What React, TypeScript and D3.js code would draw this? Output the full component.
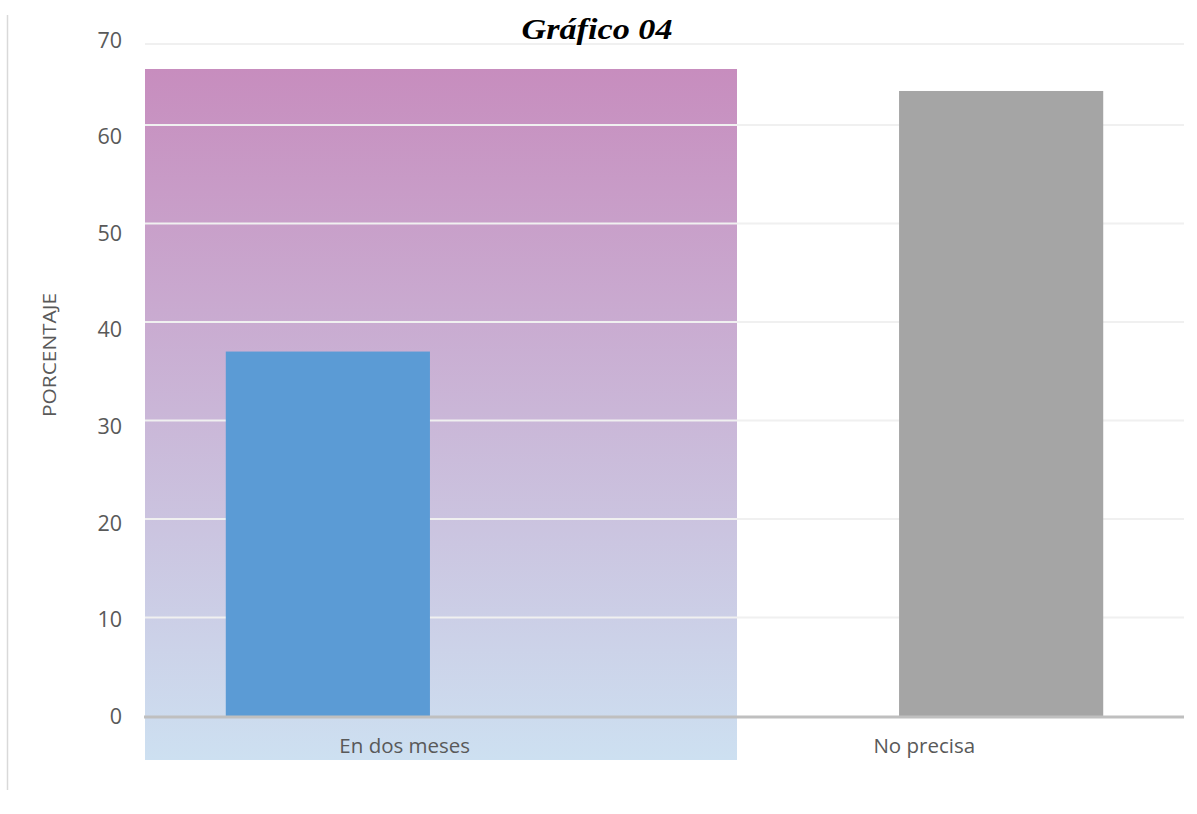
import React from "react";
import * as d3 from "d3";

const categories = ["En dos meses", "No precisa"];
const seriesNames = ["En dos meses", "No precisa"];
const seriesValues = [
  [37, 0],
  [0, 64.2],
];
const seriesColors = ["#5b9bd5", "#a5a5a5"];
const yTicks = [0, 10, 20, 30, 40, 50, 60, 70];
const title = "Gráfico 04";
const yTitle = "PORCENTAJE";

const W = 1197;
const H = 814;

export default function App() {
  const plotLeft = 145;
  const plotRight = 1184;
  // gridline scale (reference is slightly non-uniform at the top)
  const y = d3.scaleLinear().domain([0, 60, 70]).range([716, 125, 44]);
  // label scale
  const yLab = d3.scaleLinear().domain([0, 70]).range([716, 40]);
  const x = d3.scaleBand<string>().domain(categories).range([plotLeft, plotRight]).padding(0);
  const bw = x.bandwidth();
  const barW = bw * 0.393;
  const offs = [-0.148 * bw, 0.148 * bw];

  return (
    <svg width={W} height={H} style={{ position: "absolute", left: 0, top: 0 }} fontFamily="'Open Sans', sans-serif">
      <defs>
        <linearGradient id="bg" x1="0" y1="0" x2="0" y2="1">
          <stop offset="0" stopColor="#c78dbe" />
          <stop offset="1" stopColor="#cde0f1" />
        </linearGradient>
      </defs>
      <rect x={0} y={0} width={W} height={H} fill="#ffffff" />
      <line x1={7.5} x2={7.5} y1={15} y2={790} stroke="#d9d9d9" strokeWidth={1.5} />
      {/* decorative highlight band */}
      <rect x={145} y={69} width={592} height={691} fill="url(#bg)" />
      {/* gridlines */}
      {yTicks.filter((t) => t !== 0).map((t) => (
        <line key={t} x1={plotLeft} x2={plotRight} y1={y(t)} y2={y(t)} stroke="#f0f0f0" strokeWidth={2} />
      ))}
      {/* tick labels */}
      {yTicks.map((t) => (
        <text key={t} x={122} y={yLab(t)} dy="0.36em" textAnchor="end" fontSize={21.5} fill="#595959">
          {t}
        </text>
      ))}
      {/* bars */}
      {seriesValues.map((vals, si) =>
        vals.map((v, ci) =>
          v > 0 ? (
            <rect
              key={`${si}-${ci}`}
              x={(x(categories[ci]) as number) + bw / 2 + offs[si] - barW / 2}
              y={y(v)}
              width={barW}
              height={y(0) - y(v)}
              fill={seriesColors[si]}
            >
              <title>{seriesNames[si]}</title>
            </rect>
          ) : null
        )
      )}
      {/* baseline */}
      <line x1={plotLeft - 1} x2={plotRight} y1={y(0) + 1} y2={y(0) + 1} stroke="#bfbfbf" strokeWidth={3} />
      {/* category labels */}
      {categories.map((c) => (
        <text key={c} x={(x(c) as number) + bw / 2} y={746} dy="0.36em" textAnchor="middle" fontSize={20.5} fill="#595959">
          {c}
        </text>
      ))}
      {/* axis title */}
      <text
        transform={`translate(56,355) rotate(-90)`}
        textAnchor="middle"
        fontSize={19}
        fill="#595959"
        textLength={124}
        lengthAdjust="spacingAndGlyphs"
      >
        {yTitle}
      </text>
      {/* chart title */}
      <text
        x={597}
        y={39}
        textAnchor="middle"
        fontFamily="'Liberation Serif', serif"
        fontWeight="bold"
        fontStyle="italic"
        fontSize={29}
        fill="#000"
        textLength={151}
        lengthAdjust="spacingAndGlyphs"
      >
        {title}
      </text>
    </svg>
  );
}
